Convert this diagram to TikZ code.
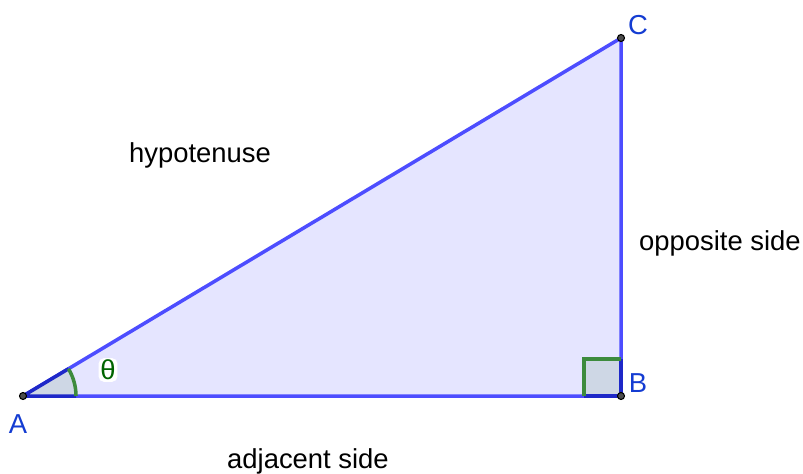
\documentclass[tikz,border=0pt]{standalone}
\usepackage{fontspec}
\setmainfont{Liberation Sans}
\usetikzlibrary{positioning,calc}
\definecolor{edgeblue}{RGB}{77,77,255}
\definecolor{darkedge}{RGB}{30,40,200}
\definecolor{facefill}{RGB}{229,229,255}
\definecolor{cornerfill}{RGB}{206,215,229}
\definecolor{labelblue}{RGB}{20,60,210}
\definecolor{anglegreen}{RGB}{61,139,61}
\definecolor{thetagreen}{RGB}{0,100,0}

\begin{document}
\begin{tikzpicture}[font=\fontsize{15.6}{18}\selectfont,
  edge/.style={draw=edgeblue, line width=2pt, line join=round},
  marker/.style={draw=anglegreen, line width=2pt},
  vertex/.style={circle, draw=black, fill=black!70, line width=0.6pt, inner sep=0pt, minimum size=4pt},
  ptlabel/.style={text=labelblue},
  sidelabel/.style={text=black}]
\useasboundingbox (0,0) rectangle (16.06,9.46);
% corners of the triangle
\coordinate (A) at (0.46,1.54);
\coordinate (B) at (12.42,1.54);
\coordinate (C) at (12.42,8.70);
\coordinate (Aa) at ($(A)+(1.06,0)$);
\coordinate (Ab) at ($(A)+(30.91:1.06)$);
\coordinate (Bb) at ($(B)+(-0.74,0)$);
\coordinate (Bc) at ($(B)+(0,0.74)$);
\fill[facefill] (A) -- (B) -- (C) -- cycle;
\draw[edge] (A) -- (B) -- (C) -- cycle;
% angle marks
\fill[cornerfill] (A) -- (Aa) arc[start angle=0, end angle=30.91, radius=1.06] -- cycle;
\fill[cornerfill] (B) rectangle ($(B)+(-0.74,0.74)$);
\draw[edge, draw=darkedge] (Aa) -- (A) -- (Ab);
\draw[edge, draw=darkedge] (Bb) -- (B) -- (Bc);
\draw[marker] (Aa) arc[start angle=0, end angle=30.91, radius=1.06];
\draw[marker] (Bb) -- ++(0,0.74) -- (Bc);
\node[vertex] (pA) at (A) {}; \node[vertex] (pB) at (B) {}; \node[vertex] (pC) at (C) {};
% labels
\node[ptlabel] (lA) at (0.36,0.98) {A};
\node[ptlabel] (lB) at (12.76,1.80) {B};
\node[ptlabel] (lC) at (12.76,8.96) {C};
\node[text=thetagreen, fill=white, rounded corners=3pt, inner sep=1pt] (theta) at (2.16,2.06) {θ};
\node[sidelabel] (hyp) at (4.00,6.36) {hypotenuse};
\node[sidelabel] (opp) at (14.40,4.60) {opposite side};
\node[sidelabel] (adj) at (6.16,0.24) {adjacent side};
\end{tikzpicture}
\end{document}
